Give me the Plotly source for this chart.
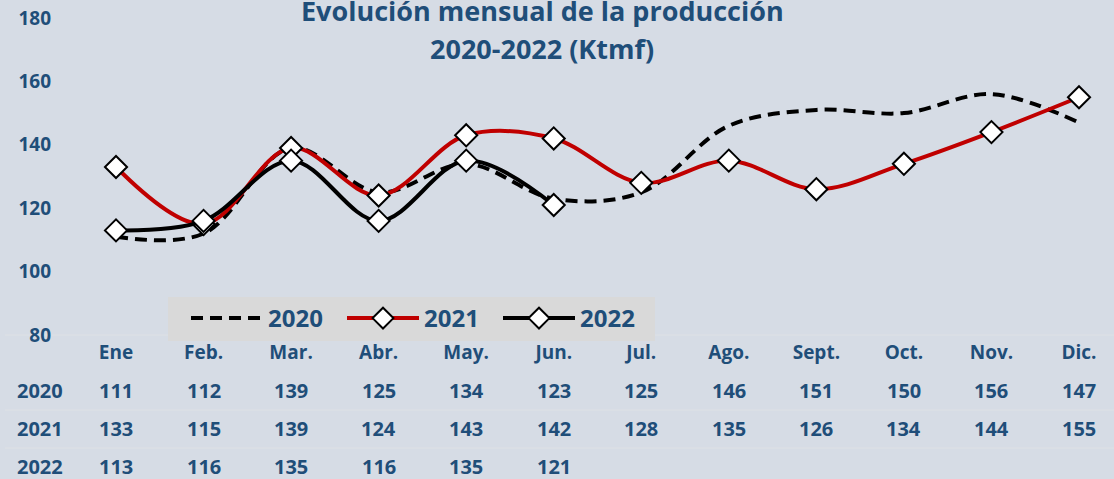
import plotly.graph_objects as go

months = ["Ene", "Feb.", "Mar.", "Abr.", "May.", "Jun.", "Jul.", "Ago.", "Sept.", "Oct.", "Nov.", "Dic."]
y2020 = [111, 112, 139, 125, 134, 123, 125, 146, 151, 150, 156, 147]
y2021 = [133, 115, 139, 124, 143, 142, 128, 135, 126, 134, 144, 155]
y2022 = [113, 116, 135, 116, 135, 121]
series_names = ["2020", "2021", "2022"]
title1 = "Evolución mensual de la producción"
title2 = "2020-2022 (Ktmf)"

W, H = 1114, 479
ML, MR, MT, MB = 60, 10, 18, 144
BG = "#D6DCE5"
TXT = "#1F4E79"
FONT = "Open Sans"

xs = list(range(len(months)))
plot_w = W - ML - MR
plot_h = H - MT - MB
px_per_unit = (1079 - 116) / 11
xmin = -(116 - ML) / px_per_unit
xmax = 11 + (W - MR - 1079) / px_per_unit

def py(pix):
    return (H - MB - pix) / plot_h

def pxx(pix):
    return (pix - ML) / plot_w

fig = go.Figure()
marker = dict(symbol="diamond", size=17, color="white", line=dict(color="black", width=2))
fig.add_trace(go.Scatter(x=xs, y=y2020, name=f"<b>{series_names[0]}</b>", mode="lines",
                         line=dict(color="black", width=4, dash="12px,7px", shape="spline")))
fig.add_trace(go.Scatter(x=xs, y=y2021, name=f"<b>{series_names[1]}</b>", mode="lines+markers",
                         line=dict(color="#C00000", width=4, shape="spline"), marker=marker))
fig.add_trace(go.Scatter(x=xs[:len(y2022)], y=y2022, name=f"<b>{series_names[2]}</b>", mode="lines+markers",
                         line=dict(color="black", width=4, shape="spline"), marker=marker))

ann = []
ann.append(dict(text=f"<b>{title1}</b>", x=pxx(542), y=py(11), xref="paper", yref="paper",
                showarrow=False, xanchor="center", yanchor="middle", font=dict(size=27, color=TXT, family=FONT)))
ann.append(dict(text=f"<b>{title2}</b>", x=pxx(542), y=py(48.5), xref="paper", yref="paper",
                showarrow=False, xanchor="center", yanchor="middle", font=dict(size=27, color=TXT, family=FONT)))

rows = [y2020, y2021, y2022]
row_y = [390, 428, 466]
for name, vals, ry in zip(series_names, rows, row_y):
    ann.append(dict(text=f"<b>{name}</b>", x=pxx(40), y=py(ry), xref="paper", yref="paper",
                    showarrow=False, xanchor="center", yanchor="middle",
                    font=dict(size=20, color=TXT, family=FONT)))
    for i, v in enumerate(vals):
        ann.append(dict(text=f"<b>{v}</b>", x=xs[i], y=py(ry), xref="x", yref="paper",
                        showarrow=False, xanchor="center", yanchor="middle",
                        font=dict(size=20, color=TXT, family=FONT)))

shapes = []
for sy in [335, 410, 448]:
    shapes.append(dict(type="line", xref="paper", yref="paper", x0=pxx(5), x1=pxx(W),
                       y0=py(sy), y1=py(sy), line=dict(color="#DEE1E5", width=1), layer="below"))
# legend background box
shapes.append(dict(type="rect", xref="paper", yref="paper", x0=pxx(168), x1=pxx(655),
                   y0=py(341), y1=py(297), fillcolor="#D9D9D9", line=dict(width=0), layer="below"))

fig.update_layout(
    width=W, height=H,
    margin=dict(l=ML, r=MR, t=MT, b=MB, autoexpand=False),
    paper_bgcolor=BG, plot_bgcolor=BG,
    showlegend=True,
    legend=dict(orientation="h", x=pxx(186), y=py(296), xanchor="left", yanchor="top",
                bgcolor="rgba(0,0,0,0)", font=dict(size=24, color=TXT, family=FONT), itemwidth=72,
                entrywidth=69, tracegroupgap=0),
    xaxis=dict(range=[xmin, xmax], tickmode="array", tickvals=xs, ticktext=[f"<b>{m}</b>" for m in months],
               showgrid=False, zeroline=False, showline=False, ticks="", automargin=False,
               tickfont=dict(size=19, color=TXT, family=FONT), ticklabelstandoff=4),
    yaxis=dict(range=[80, 180], tickvals=[80, 100, 120, 140, 160, 180],
               ticktext=[f"<b>{v}</b>" for v in [80, 100, 120, 140, 160, 180]],
               showgrid=False, zeroline=False, showline=False, ticks="", automargin=False,
               tickfont=dict(size=19, color=TXT, family=FONT), ticklabelstandoff=8),
    annotations=ann, shapes=shapes,
)

fig.write_html("out.html", config={"displayModeBar": False},
               post_script="document.body.style.margin='0';document.body.style.overflow='hidden';")
